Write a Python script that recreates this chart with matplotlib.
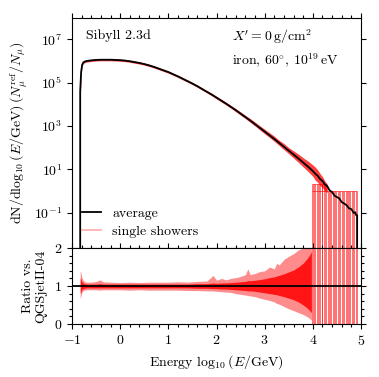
import numpy as np
import matplotlib
matplotlib.use('Agg')
import matplotlib.pyplot as plt
from matplotlib.lines import Line2D
from matplotlib.ticker import MultipleLocator, NullLocator

plt.rcParams['font.family'] = 'serif'
plt.rcParams['font.serif'] = ['cmr10']
plt.rcParams['mathtext.fontset'] = 'cm'
plt.rcParams['axes.formatter.use_mathtext'] = True
plt.rcParams['font.size'] = 10

# average spectrum, log10 of dN/dlog10E (None = empty bin)
energy = [-0.84, -0.83, -0.81, -0.79, -0.77, -0.74, -0.7, -0.6, -0.5, -0.4,
          -0.3, -0.2, -0.1, 0.0, 0.1, 0.2, 0.3, 0.4, 0.5, 0.6,
          0.7, 0.8, 0.9, 1.0, 1.1, 1.2, 1.3, 1.4, 1.5, 1.6,
          1.7, 1.8, 1.9, 2.0, 2.1, 2.2, 2.3, 2.4, 2.5, 2.6,
          2.7, 2.8, 2.9, 3.0, 3.1, 3.2, 3.3, 3.4, 3.5, 3.6,
          3.7, 3.8, 3.9, 4.0, 4.05, 4.1, 4.15, 4.2, 4.25, 4.3,
          4.35, 4.4, 4.45, 4.5, 4.55, 4.6, 4.65, 4.7, 4.75, 4.8,
          4.85, 4.88, 4.9, 4.92, 4.93]
avg_log = [None, 4.6, 5.5, 5.82, 5.92, 5.97, 6.0, 6.03, 6.05, 6.06,
           6.06, 6.06, 6.05, 6.04, 6.02, 5.99, 5.95, 5.91, 5.86, 5.80,
           5.73, 5.65, 5.57, 5.49, 5.39, 5.29, 5.18, 5.07, 4.96, 4.84,
           4.71, 4.58, 4.45, 4.31, 4.17, 4.03, 3.88, 3.73, 3.57, 3.41,
           3.25, 3.08, 2.91, 2.74, 2.57, 2.40, 2.22, 2.04, 1.86, 1.68,
           1.50, 1.31, 1.12, 0.92, 0.80, 0.70, 0.55, 0.46, 0.30, 0.22,
           0.02, -0.05, -0.22, -0.28, -0.35, -0.52, -0.58, -0.66, -0.80, -0.84,
           -1.02, -0.98, -1.12, -1.12, None]

# spread of single showers around the average (decades), energies -0.83 .. 4.3
spread_up = [0.3, 0.10, 0.06, 0.05, 0.05, 0.05, 0.05, 0.05, 0.05,
             0.05, 0.05, 0.05, 0.05, 0.05, 0.05, 0.05, 0.05, 0.05, 0.05,
             0.05, 0.05, 0.05, 0.05, 0.05, 0.05, 0.05, 0.05, 0.05, 0.05,
             0.05, 0.05, 0.06, 0.06, 0.06, 0.06, 0.07, 0.07, 0.08, 0.08,
             0.09, 0.10, 0.10, 0.11, 0.12, 0.13, 0.12, 0.15, 0.14, 0.17,
             0.20, 0.22, 0.26, 0.28, 0.30, 0.28, 0.25, 0.20, 0.15, 0.10]
spread_lo = [0.3, 0.10, 0.06, 0.05, 0.05, 0.05, 0.05, 0.05, 0.05,
             0.05, 0.05, 0.05, 0.05, 0.05, 0.05, 0.05, 0.05, 0.05, 0.05,
             0.05, 0.05, 0.05, 0.05, 0.05, 0.05, 0.05, 0.05, 0.05, 0.05,
             0.05, 0.05, 0.05, 0.06, 0.06, 0.06, 0.06, 0.07, 0.07, 0.07,
             0.08, 0.08, 0.09, 0.10, 0.10, 0.11, 0.12, 0.13, 0.14, 0.16,
             0.18, 0.20, 0.22, 0.25, 0.30, 0.30, 0.30, 0.30, 0.30, 0.30]

# high-energy bins where single showers hold one or two muons
spike_e_two = [3.98, 4.0, 4.03, 4.05, 4.08, 4.1, 4.13, 4.15, 4.18, 4.2,
               4.23, 4.25, 4.28]
spike_e_one = [4.31, 4.33, 4.36, 4.38, 4.41, 4.44, 4.46, 4.49, 4.52, 4.54,
               4.57, 4.6, 4.62, 4.65, 4.68, 4.7, 4.73, 4.76, 4.78, 4.81,
               4.84, 4.86, 4.89, 4.92]
top_two = 2.1
top_one = 1.0

# ratio vs QGSjetII-04
ratio_e = [-0.83, -0.82, -0.8, -0.77, -0.74, -0.7, -0.6, -0.5, -0.42, -0.35,
           -0.2, 0.0, 0.2, 0.4, 0.6, 0.8, 1.0, 1.2, 1.4, 1.6,
           1.8, 1.93, 2.0, 2.1, 2.2, 2.3, 2.4, 2.5, 2.6, 2.65,
           2.7, 2.8, 2.9, 3.0, 3.1, 3.2, 3.25, 3.3, 3.4, 3.5,
           3.6, 3.7, 3.8, 3.9, 3.97]
ratio_hi = [1.40, 1.38, 1.25, 1.15, 1.12, 1.10, 1.10, 1.12, 1.16, 1.11,
            1.10, 1.09, 1.10, 1.09, 1.10, 1.10, 1.10, 1.11, 1.10, 1.12,
            1.13, 1.28, 1.15, 1.20, 1.16, 1.20, 1.22, 1.25, 1.30, 1.45,
            1.30, 1.33, 1.38, 1.40, 1.50, 1.45, 1.60, 1.55, 1.70, 1.78,
            1.85, 1.95, 2.00, 2.20, 2.20]
ratio_lo = [0.67, 0.70, 0.82, 0.88, 0.89, 0.90, 0.90, 0.90, 0.89, 0.90,
            0.90, 0.90, 0.89, 0.90, 0.89, 0.89, 0.89, 0.89, 0.88, 0.88,
            0.87, 0.87, 0.86, 0.85, 0.84, 0.83, 0.80, 0.78, 0.76, 0.75,
            0.74, 0.72, 0.68, 0.65, 0.62, 0.58, 0.54, 0.52, 0.46, 0.40,
            0.35, 0.30, 0.25, 0.18, 0.10]
core_hi = [1.20, 1.20, 1.12, 1.08, 1.06, 1.05, 1.05, 1.05, 1.06, 1.05,
           1.05, 1.05, 1.05, 1.05, 1.05, 1.05, 1.05, 1.05, 1.05, 1.06,
           1.06, 1.08, 1.07, 1.08, 1.08, 1.09, 1.10, 1.11, 1.12, 1.14,
           1.14, 1.15, 1.17, 1.19, 1.22, 1.24, 1.26, 1.28, 1.32, 1.37,
           1.42, 1.50, 1.60, 1.75, 1.90]
core_lo = [0.82, 0.82, 0.90, 0.93, 0.94, 0.95, 0.95, 0.95, 0.95, 0.95,
           0.95, 0.95, 0.95, 0.95, 0.95, 0.95, 0.95, 0.95, 0.95, 0.94,
           0.94, 0.93, 0.93, 0.92, 0.92, 0.91, 0.90, 0.89, 0.88, 0.87,
           0.87, 0.86, 0.84, 0.82, 0.80, 0.78, 0.77, 0.75, 0.72, 0.68,
           0.64, 0.58, 0.50, 0.40, 0.30]

energy = np.array(energy)
avg = np.array([0.0 if v is None else 10.0 ** v for v in avg_log])
band_e = energy[1:60]
band_c = np.array(avg_log[1:60], dtype=float)
band_hi = 10.0 ** (band_c + np.array(spread_up))
band_lo = 10.0 ** (band_c - np.array(spread_lo))

fig = plt.figure(figsize=(3.79, 3.77), dpi=100)
ax = fig.add_axes([0.190, 0.342, 0.7625, 0.611])
axr = fig.add_axes([0.190, 0.1406, 0.7625, 0.2016], sharex=ax)

# main panel
ax.set_yscale('log')
ax.fill_between(band_e, band_lo, band_hi, color='red', alpha=0.75, lw=0)
ax.vlines(spike_e_two, 1e-4, top_two, color='red', alpha=0.7, lw=0.55)
ax.vlines(spike_e_one, 1e-4, top_one, color='red', alpha=0.7, lw=0.55)
ax.hlines(top_two, spike_e_two[0], spike_e_two[-1], color='red', alpha=0.7, lw=0.6)
ax.hlines(top_one, spike_e_two[0], spike_e_one[-1], color='red', alpha=0.7, lw=0.6)
ax.plot(energy, avg, color='k', lw=1.3)

ax.set_xlim(-1, 5)
ax.set_ylim(2.3e-3, 1e8)
ax.set_yticks([1e-1, 1e1, 1e3, 1e5, 1e7])
ax.yaxis.set_minor_locator(NullLocator())
ax.set_ylabel(r'dN/d$\log_{10}(E/\mathrm{GeV})\,(N_\mu^\mathrm{ref}/N_\mu)$')
ax.yaxis.set_label_coords(-0.145, 0.5)

ax.text(0.048, 0.92, 'Sibyll 2.3d', transform=ax.transAxes, va='center')
ax.text(0.553, 0.92, r"$X^{\prime} = 0\,\mathrm{g/cm^2}$", transform=ax.transAxes, va='center')
ax.text(0.553, 0.815, r'iron, $60^{\circ}$, $10^{19}\,$eV', transform=ax.transAxes, va='center')

handles = [Line2D([], [], color='k', lw=1.3, label='average'),
           Line2D([], [], color='red', alpha=0.3, lw=1.3, label='single showers')]
ax.legend(handles=handles, loc='lower left', frameon=False, handlelength=1.4,
          handletextpad=0.8, borderaxespad=0.3, labelspacing=0.4)

# ratio panel
axr.fill_between(ratio_e, ratio_lo, ratio_hi, color='red', alpha=0.45, lw=0)
axr.fill_between(ratio_e, core_lo, core_hi, color='red', alpha=0.85, lw=0)
axr.vlines(spike_e_two + spike_e_one, 0, 2.2, color='red', alpha=0.7, lw=0.55)
axr.axhline(1, color='k', lw=1.3)
axr.set_ylim(0, 2)
axr.set_yticks([0, 1, 2])
axr.yaxis.set_minor_locator(MultipleLocator(0.2))
axr.xaxis.set_major_locator(MultipleLocator(1))
axr.xaxis.set_minor_locator(MultipleLocator(0.2))
axr.set_ylabel('Ratio vs.\nQGSjetII-04', multialignment='center')
axr.yaxis.set_label_coords(-0.085, 0.5)
axr.set_xlabel(r'Energy $\log_{10}(E/\mathrm{GeV})$')

for a in (ax, axr):
    a.tick_params(which='both', direction='out', top=True, right=True, width=0.8)
    a.tick_params(which='major', length=3.5)
    a.tick_params(which='minor', length=2)
    for s in a.spines.values():
        s.set_linewidth(0.8)
ax.tick_params(axis='x', which='both', bottom=False, labelbottom=False, labeltop=False)

fig.savefig('out.png', dpi=100)
